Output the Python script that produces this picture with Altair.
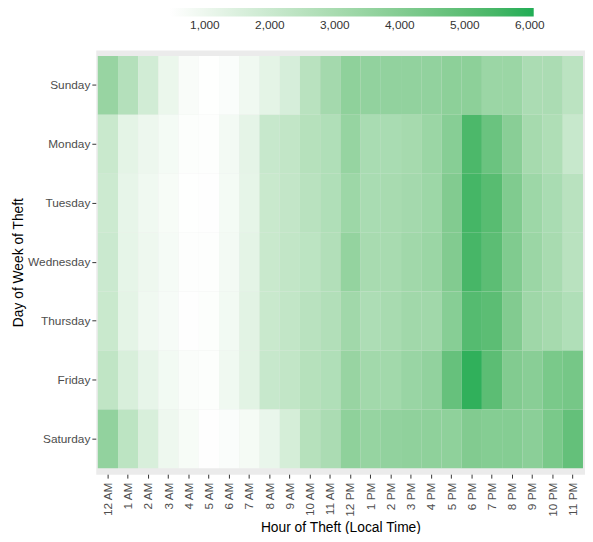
import altair as alt
import pandas as pd

days = ["Sunday", "Monday", "Tuesday", "Wednesday", "Thursday", "Friday", "Saturday"]
hours = ["12 AM", "1 AM", "2 AM", "3 AM", "4 AM", "5 AM", "6 AM", "7 AM", "8 AM",
         "9 AM", "10 AM", "11 AM", "12 PM", "1 PM", "2 PM", "3 PM", "4 PM", "5 PM",
         "6 PM", "7 PM", "8 PM", "9 PM", "10 PM", "11 PM"]

sunday = [3450, 2650, 1800, 1050, 650, 480, 600, 900, 1250, 1650, 2500, 3100,
          3700, 3600, 3600, 3600, 3600, 3750, 3750, 3350, 3350, 2900, 2900, 2450]
monday = [2050, 1250, 1000, 780, 560, 520, 820, 1220, 2100, 2250, 2600, 2750,
          3500, 2950, 2950, 3050, 3350, 3900, 5350, 4650, 3850, 3050, 2800, 2100]
tuesday = [1950, 1150, 900, 700, 480, 500, 780, 1200, 2050, 2200, 2500, 2750,
           3300, 2950, 3000, 3100, 3300, 4050, 5500, 5100, 4100, 3300, 2950, 2500]
wednesday = [2000, 1200, 950, 750, 520, 520, 800, 1250, 2050, 2250, 2400, 2700,
             3550, 3000, 3000, 3200, 3350, 4050, 5450, 5000, 4100, 3350, 3000, 2500]
thursday = [2050, 1250, 900, 720, 500, 560, 850, 1300, 2050, 2250, 2500, 2700,
            3200, 2850, 3000, 3200, 3200, 3900, 5150, 5000, 4050, 3250, 3050, 2750]
friday = [2300, 1600, 1150, 850, 620, 560, 900, 1300, 2100, 2250, 2600, 2750,
          3450, 3150, 3150, 3400, 3600, 4750, 5850, 5000, 4050, 3850, 4250, 4350]
saturday = [3600, 2400, 1600, 950, 700, 500, 600, 760, 1100, 1700, 2600, 2900,
            3700, 3500, 3600, 3650, 3700, 3700, 4050, 3950, 3950, 3800, 4250, 4800]

legend_values = [1000, 2000, 3000, 4000, 5000, 6000]
color_domain = [460, 6060]
color_range = ["#FFFFFF", "#20AD55"]

rows = []
for d, vals in zip(days, [sunday, monday, tuesday, wednesday, thursday, friday, saturday]):
    for h, v in zip(hours, vals):
        rows.append({"day": d, "hour": h, "count": v})
df = pd.DataFrame(rows)

FONT = "Liberation Sans"

chart = alt.Chart(df).mark_rect().encode(
    x=alt.X("hour:N", sort=hours,
            scale=alt.Scale(paddingInner=0, paddingOuter=0.1),
            axis=alt.Axis(title="Hour of Theft (Local Time)", labelAngle=270,
                          labelAlign="right", labelBaseline="middle",
                          labelPadding=4, titlePadding=4, grid=False)),
    y=alt.Y("day:N", sort=days,
            scale=alt.Scale(paddingInner=0, paddingOuter=0.1),
            axis=alt.Axis(title="Day of Week of Theft", labelPadding=2,
                          titlePadding=2, grid=False)),
    color=alt.Color("count:Q",
                    scale=alt.Scale(domain=color_domain, range=color_range,
                                    interpolate="lab"),
                    legend=alt.Legend(orient="none", legendX=75, legendY=-43,
                                      direction="horizontal", title=None,
                                      gradientLength=369, gradientThickness=9,
                                      gradientStrokeWidth=0,
                                      values=legend_values,
                                      labelExpr="format(datum.value, ',')",
                                      labelFontSize=12, labelColor="#333333",
                                      labelAlign="center", labelOffset=4,
                                      labelFont=FONT)),
).properties(
    width=496, height=430,
    autosize=alt.AutoSizeParams(type="none"),
    padding={"left": 89, "top": 39, "right": 0, "bottom": 57},
).configure_view(
    fill="#EBEBEB", stroke="transparent"
).configure_axis(
    domain=False,
    tickColor="#333333", tickSize=4, tickWidth=1,
    labelFont=FONT, labelFontSize=12, labelColor="#4D4D4D",
    titleFont=FONT, titleFontSize=14, titleFontWeight="normal", titleColor="#000000",
)

chart.save("out.html", embed_options={"renderer": "svg", "actions": False})
